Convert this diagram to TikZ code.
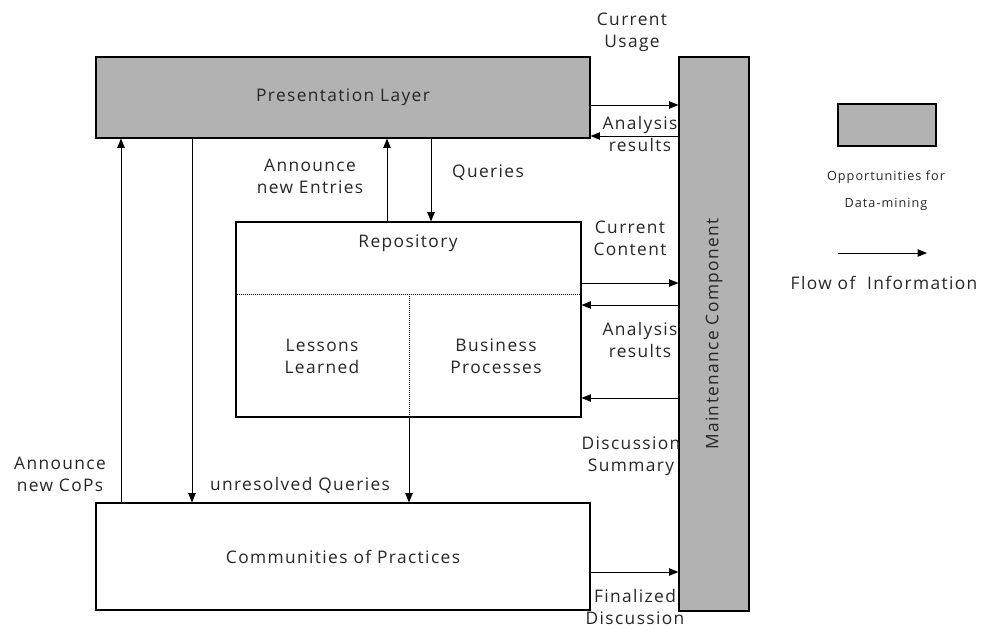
\documentclass[tikz,border=0pt]{standalone}
\usepackage{fontspec}
\setmainfont[LetterSpace=8]{Open Sans}
\usetikzlibrary{arrows.meta,fit}
\definecolor{mgray}{HTML}{B2B2B2}
\tikzset{
  box/.style={draw=black, line width=0.8pt, inner sep=0pt},
  graybox/.style={box, fill=mgray},
  flow/.style={line width=0.75pt, -{Triangle[length=7pt,width=5.5pt]}},
  lbl/.style={align=center, font=\fontsize{13}{16.5}\selectfont, inner sep=0pt, text=black!85},
  sep/.style={densely dotted, line width=0.5pt}
}
\begin{document}
\begin{tikzpicture}[x=0.75pt,y=-0.75pt]
\useasboundingbox (0,0) rectangle (992,629);
% boxes
\node[graybox, fit={(96,57) (590,138)}] (pres) {};
\node[lbl] (prestxt) at (pres.center) {Presentation Layer};
\node[graybox, fit={(679,57) (749,611)}] (maint) {};
\node[lbl, rotate=90] (mainttxt) at (maint.center) {Maintenance Component};
\node[box, fit={(236,222) (581,417)}] (repo) {};
\node[box, fit={(96,503) (590,610)}] (cop) {};
\node[lbl] (coptxt) at (cop.center) {Communities of Practices};
\draw[sep] (repo.west |- 0,294) -- (repo.east |- 0,294);
\draw[sep] (409,294) -- (repo.south -| 409,0);
\node[lbl] (repotxt) at (408,243) {Repository};
\node[lbl] (lltxt) at (322,356) {Lessons\\Learned};
\node[lbl] (bptxt) at (496,356) {Business\\Processes};
% legend
\node[graybox, fit={(838,104) (936,146)}] (leg) {};
\node[lbl, font=\fontsize{9.5}{20}\selectfont] (legtxt) at (886,191) {Opportunities for\\Data-mining};
\coordinate (la) at (838,253);
\coordinate (lb) at (927,253);
\draw[flow] (la) -- (lb);
\node[lbl] (flowtxt) at (884,283) {Flow of\ \ Information};
% right arrows
\draw[flow] (pres.east |- 0,105) -- (maint.west |- 0,105);
\draw[flow] (maint.west |- 0,136) -- (pres.east |- 0,136);
\draw[flow] (repo.east |- 0,283) -- (maint.west |- 0,283);
\draw[flow] (maint.west |- 0,305) -- (repo.east |- 0,305);
\draw[flow] (maint.west |- 0,398) -- (repo.east |- 0,398);
\draw[flow] (cop.east |- 0,572) -- (maint.west |- 0,572);
\node[lbl] (cu) at (632,32) {Current\\Usage};
\node[lbl] (ar1) at (640,134) {Analysis\\results};
\node[lbl] (cc) at (630,238) {Current\\Content};
\node[lbl] (ar2) at (640,340) {Analysis\\results};
\node[lbl] (ds) at (631,456) {Discussion\\Summary};
\node[lbl] (fd) at (635,607) {Finalized\\Discussion};
% vertical arrows
\draw[flow] (cop.north -| 121,0) -- (pres.south -| 121,0);
\draw[flow] (pres.south -| 192,0) -- (cop.north -| 192,0);
\draw[flow] (repo.north -| 387,0) -- (pres.south -| 387,0);
\draw[flow] (pres.south -| 431,0) -- (repo.north -| 431,0);
\draw[flow] (repo.south -| 409,0) -- (cop.north -| 409,0);
\node[lbl] (anc) at (60,474) {Announce\\new CoPs};
\node[lbl] (ane) at (310,176) {Announce\\new Entries};
\node[lbl] (q) at (488,173) {Queries};
\node[lbl] (uq) at (300,485) {unresolved Queries};
\end{tikzpicture}
\end{document}
